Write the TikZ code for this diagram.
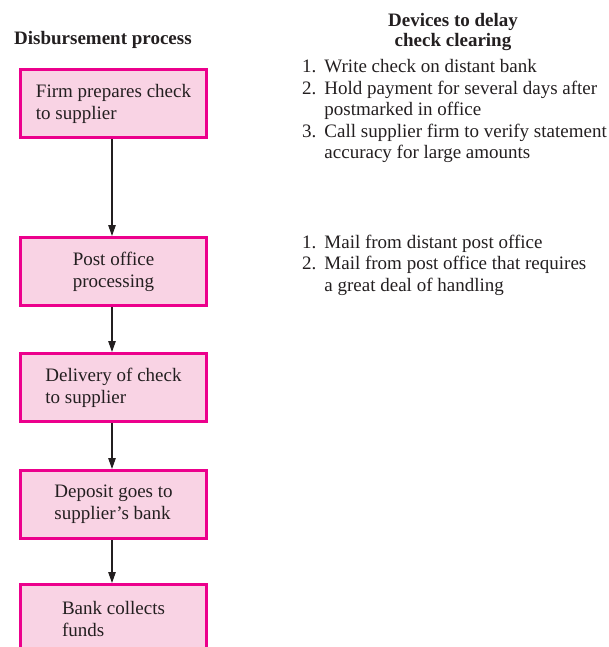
\documentclass[tikz,border=0pt]{standalone}
\usepackage{fontspec}
\setmainfont{Liberation Serif}
\usetikzlibrary{arrows.meta}
\definecolor{boxline}{RGB}{236,0,140}
\definecolor{boxfill}{RGB}{249,211,228}
\definecolor{ink}{RGB}{35,31,32}
\tikzset{
  stepbox/.style={rectangle, draw=boxline, fill=boxfill, line width=3pt,
    minimum width=186pt, minimum height=68pt, align=left, text=ink,
    font=\fontsize{19}{22}\selectfont, inner sep=0pt},
  arr/.style={draw=ink, line width=1.2pt, -{Triangle[length=11pt,width=7.5pt]}},
  heading/.style={text=ink, inner sep=0pt, font=\fontsize{19}{19.7}\selectfont\bfseries},
  listtext/.style={text=ink, inner sep=0pt, anchor=base west, font=\fontsize{19}{21.5}\selectfont}
}
\begin{document}
\begin{tikzpicture}[x=1pt,y=-1pt]
\clip (0,0) rectangle (608,647);
\useasboundingbox (0,0) rectangle (608,647);
\node[heading, anchor=base west] (h1) at (14,45) {Disbursement process};
\node[heading, anchor=base] (h2) at (453,27) {\begin{tabular}[t]{@{}c@{}}Devices to delay\\ check clearing\end{tabular}};
\node[stepbox] (b1) at (113.5,104) {Firm prepares check\\to supplier};
\node[stepbox] (b2) at (113.5,271.5) {Post office\\processing};
\node[stepbox] (b3) at (113.5,387.5) {Delivery of check\\to supplier};
\node[stepbox] (b4) at (113.5,504.5) {Deposit goes to\\supplier’s bank};
\node[stepbox] (b5) at (113.5,618.5) {Bank collects\\funds};
\draw[arr] ([xshift=-1.5pt]b1.south) -- ([xshift=-1.5pt]b2.north);
\draw[arr] ([xshift=-1.5pt]b2.south) -- ([xshift=-1.5pt]b3.north);
\draw[arr] ([xshift=-1.5pt]b3.south) -- ([xshift=-1.5pt]b4.north);
\draw[arr] ([xshift=-1.5pt]b4.south) -- ([xshift=-1.5pt]b5.north);
\node[listtext] (l1) at (302,73) {\begin{tabular}[t]{@{}r@{\hspace{8pt}}l@{}}
1.& Write check on distant bank\\
2.& Hold payment for several days after\\
  & postmarked in office\\
3.& Call supplier firm to verify statement\\
  & accuracy for large amounts
\end{tabular}};
\node[listtext] (l2) at (302,248) {\begin{tabular}[t]{@{}r@{\hspace{8pt}}l@{}}
1.& Mail from distant post office\\
2.& Mail from post office that requires\\
  & a great deal of handling
\end{tabular}};
\end{tikzpicture}
\end{document}
